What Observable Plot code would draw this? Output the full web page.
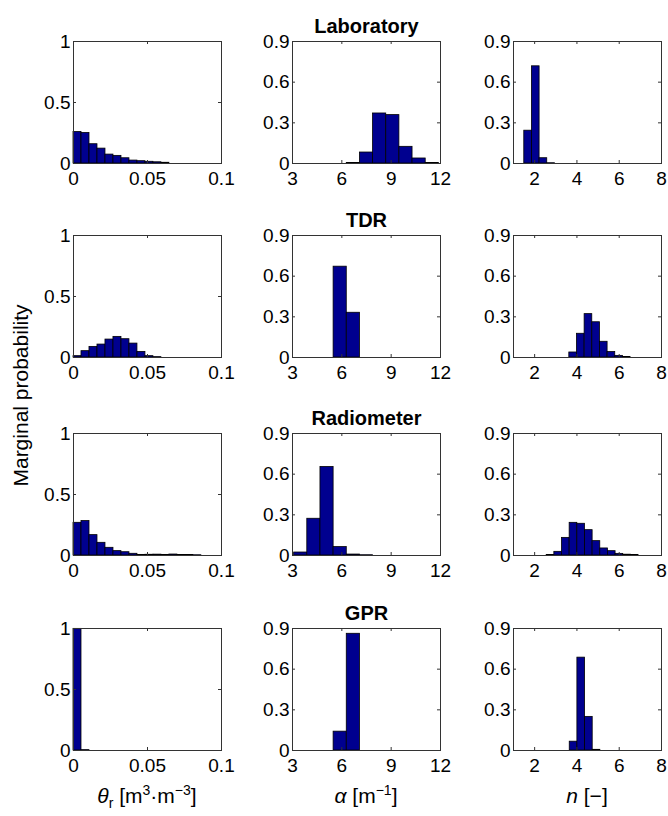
<!DOCTYPE html>
<html><head><meta charset="utf-8">
<script src="https://cdn.jsdelivr.net/npm/d3@7"></script>
<script src="https://cdn.jsdelivr.net/npm/@observablehq/plot@0.6"></script>
<style>
body{margin:0;background:#fff;}
#chart{position:relative;width:668px;height:816px;overflow:hidden;font-family:"Liberation Sans",Arial,sans-serif;background:#fff;}
.panel{position:absolute;}
.lbl{position:absolute;font-size:21px;line-height:21px;white-space:nowrap;text-align:center;width:200px;color:#000;}
.lbl sup,.lbl sub{font-size:14px;line-height:0;}
.ylab{position:absolute;font-size:21px;line-height:21px;white-space:nowrap;text-align:center;width:300px;transform:rotate(-90deg);transform-origin:50% 50%;}
</style></head><body><div id="chart"></div>
<script>
// Row titles (measurement methods)
const rowTitles = ["Laboratory", "TDR", "Radiometer", "GPR"];

// Histogram bin widths per parameter
const thetaBin = 0.0054, alphaBin = 0.8, nBin = 0.362;
// Left edge of the first bin, per row
const thetaStart = [0, 0, 0, 0];
const alphaStart = [6.3, 5.5, 3.1, 5.5];
const nStart = [1.51, 3.64, 2.57, 3.66];

// Marginal probabilities (theta_r)
const thetaLab = [0.258, 0.25, 0.158, 0.122, 0.073, 0.0625, 0.043, 0.024, 0.019, 0.014, 0.01, 0.006];
const thetaTDR = [0.011, 0.052, 0.087, 0.106, 0.147, 0.169, 0.15, 0.114, 0.046, 0.011, 0.003];
const thetaRad = [0.268, 0.282, 0.167, 0.104, 0.063, 0.036, 0.027, 0.014, 0.005, 0.006, 0.007, 0.005, 0.008, 0.004, 0.004, 0.002];
const thetaGPR = [0.997, 0.003];
// Marginal probabilities (alpha)
const alphaLab = [0.004, 0.081, 0.369, 0.357, 0.123, 0.037, 0.004];
const alphaTDR = [0.67, 0.33];
const alphaRad = [0.022, 0.271, 0.653, 0.062, 0.007, 0.002];
const alphaGPR = [0.139, 0.861];
// Marginal probabilities (n)
const nLab = [0.242, 0.717, 0.039, 0.002];
const nTDR = [0.037, 0.175, 0.32, 0.26, 0.116, 0.04, 0.012, 0.003];
const nRad = [0.004, 0.027, 0.13, 0.241, 0.234, 0.187, 0.106, 0.052, 0.032, 0.012, 0.006, 0.003];
const nGPR = [0.065, 0.685, 0.248, 0.005];

// Axis ticks
const thetaTicks = [0, 0.05, 0.1];
const alphaTicks = [3, 6, 9, 12];
const nTicks = [2, 4, 6, 8];
const probTicks1 = [0, 0.5, 1];
const probTicks09 = [0, 0.3, 0.6, 0.9];

const columns = [
  {xDomain: [0, 0.1], xTicks: thetaTicks, yDomain: [0, 1], yTicks: probTicks1, bin: thetaBin, starts: thetaStart, probs: [thetaLab, thetaTDR, thetaRad, thetaGPR]},
  {xDomain: [3, 12], xTicks: alphaTicks, yDomain: [0, 0.9], yTicks: probTicks09, bin: alphaBin, starts: alphaStart, probs: [alphaLab, alphaTDR, alphaRad, alphaGPR]},
  {xDomain: [1, 8], xTicks: nTicks, yDomain: [0, 0.9], yTicks: probTicks09, bin: nBin, starts: nStart, probs: [nLab, nTDR, nRad, nGPR]}
];

// Layout
const colLeft = [73, 292, 513];
const rowTop = [41, 235, 433, 628];
const plotW = 148, plotH = 122, tickLen = 3;
const frameColor = "#333";
const chart = document.getElementById("chart");

columns.forEach((col, c) => {
  rowTitles.forEach((title, r) => {
    const bars = col.probs[r].map((p, i) => ({
      x1: col.starts[r] + i * col.bin,
      x2: col.starts[r] + (i + 1) * col.bin,
      p
    }));
    const mL = 45, mR = c === 2 ? 7 : 10, mT = 35, mB = 30;
    const marks = [
      Plot.rectY(bars, {x1: "x1", x2: "x2", y: "p", fill: "#00008f", stroke: "#000", strokeWidth: 0.8}),
      Plot.tickX(col.xTicks, {x: d => d, insetTop: plotH - tickLen, stroke: frameColor}),
      Plot.tickX(col.xTicks, {x: d => d, insetBottom: plotH - tickLen, stroke: frameColor}),
      Plot.tickY(col.yTicks, {y: d => d, insetRight: plotW - tickLen, stroke: frameColor}),
      Plot.tickY(col.yTicks, {y: d => d, insetLeft: plotW - tickLen, stroke: frameColor}),
      Plot.axisX(col.xTicks, {tickSize: 0, tickPadding: 8, tickFormat: d => String(d), label: null, fill: "#000"}),
      Plot.axisY(col.yTicks, {tickSize: 0, tickPadding: 3, tickFormat: d => String(d), label: null, fill: "#000"}),
      Plot.frame({stroke: frameColor})
    ];
    if (c === 1) {
      marks.push(Plot.text([title], {text: d => d, frameAnchor: "top", dy: -9, lineAnchor: "bottom", fontWeight: "bold", fontSize: 20, fill: "#000"}));
    }
    const svg = Plot.plot({
      width: plotW + mL + mR,
      height: plotH + mT + mB,
      marginLeft: mL, marginRight: mR, marginTop: mT, marginBottom: mB,
      x: {domain: col.xDomain},
      y: {domain: col.yDomain},
      style: {fontSize: "19px", fontFamily: '"Liberation Sans", Arial, sans-serif', background: "transparent", overflow: "visible"},
      marks
    });
    svg.classList.add("panel");
    svg.style.left = (colLeft[c] - mL) + "px";
    svg.style.top = (rowTop[r] - mT) + "px";
    chart.appendChild(svg);
  });
});

// Bottom axis labels
const xLabels = [
  '<i>θ</i><sub>r</sub> [m<sup>3</sup>·m<sup>−3</sup>]',
  '<i>α</i> [m<sup>−1</sup>]',
  '<i>n</i> [−]'
];
xLabels.forEach((html, c) => {
  const d = document.createElement("div");
  d.className = "lbl";
  d.innerHTML = html;
  d.style.left = (colLeft[c] + plotW / 2 - 100) + "px";
  d.style.top = "785px";
  chart.appendChild(d);
});

// Y label
const yl = document.createElement("div");
yl.className = "ylab";
yl.textContent = "Marginal probability";
yl.style.left = (20 - 150) + "px";
yl.style.top = (395 - 10) + "px";
chart.appendChild(yl);
</script>
</body></html>
